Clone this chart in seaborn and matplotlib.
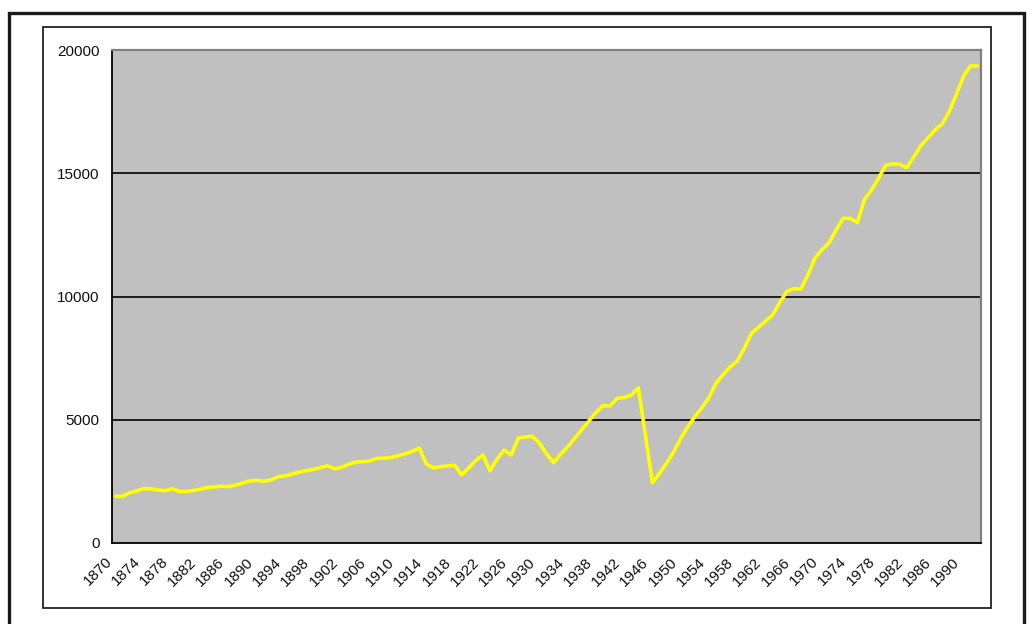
import numpy as np
import matplotlib
matplotlib.use("Agg")
import matplotlib.pyplot as plt
from matplotlib.patches import Rectangle
from matplotlib.transforms import ScaledTranslation
import seaborn as sns

# ---- data ----
years = list(range(1870, 1993))
gdp = [
    1900, 1890, 2040, 2110, 2210, 2200, 2150, 2120, 2200, 2090,   # 1870-1879
    2090, 2130, 2180, 2250, 2280, 2300, 2290, 2350, 2430, 2520,   # 1880-1889
    2540, 2510, 2560, 2690, 2720, 2800, 2880, 2930, 2990, 3060,   # 1890-1899
    3130, 3010, 3070, 3200, 3280, 3300, 3330, 3430, 3440, 3470,   # 1900-1909
    3540, 3620, 3720, 3850, 3200, 3050, 3090, 3130, 3150, 2760,   # 1910-1919
    3050, 3350, 3570, 2930, 3400, 3770, 3570, 4250, 4300, 4330,   # 1920-1929
    4050, 3620, 3260, 3600, 3900, 4250, 4600, 4950, 5300, 5570,   # 1930-1939
    5560, 5870, 5900, 6000, 6290, 4370, 2450, 2830, 3240, 3690,   # 1940-1949
    4250, 4710, 5130, 5490, 5900, 6480, 6830, 7150, 7380, 7900,   # 1950-1959
    8500, 8750, 9000, 9250, 9750, 10200, 10320, 10300, 10870, 11560,  # 1960-1969
    11900, 12180, 12700, 13170, 13170, 13000, 13930, 14320, 14800, 15320,  # 1970-1979
    15380, 15360, 15230, 15670, 16120, 16440, 16760, 17000, 17500, 18190,  # 1980-1989
    18920, 19350, 19350,                                              # 1990-1992
]
label_years = list(range(1870, 1991, 4))
y_ticks = [0, 5000, 10000, 15000, 20000]

sns.set_style("white")
plt.rcParams["font.family"] = ["Liberation Sans", "DejaVu Sans"]

W, H = 1029, 624
fig = plt.figure(figsize=(W / 100, H / 100), dpi=100)
fig.patch.set_facecolor("white")

# outer thick page frame and inner chart frame
fig.add_artist(Rectangle((8.5 / W, -0.05), (1024 - 8.5) / W, 1 - 12.5 / H + 0.05,
                         transform=fig.transFigure, fill=False,
                         edgecolor="#1a1a1a", linewidth=2.4))
fig.add_artist(Rectangle((43 / W, 1 - 608 / H), (991 - 43) / W, (608 - 27) / H,
                         transform=fig.transFigure, fill=False,
                         edgecolor="#222222", linewidth=1.3))

ax = fig.add_axes([112 / W, 1 - 543 / H, (981 - 112) / W, (543 - 50) / H])
ax.set_facecolor("#C0C0C0")

sns.lineplot(x=years, y=gdp, ax=ax, color="#FFFF00", linewidth=2.6)
for ln in ax.get_lines():
    ln.set_solid_joinstyle("round")
    ln.set_solid_capstyle("round")

ax.set_xlim(1869.5, 1992.5)
ax.set_ylim(0, 20000)
ax.set_xlabel("")
ax.set_ylabel("")

ax.set_yticks(y_ticks)
ax.set_yticklabels([str(v) for v in y_ticks])
ax.yaxis.grid(True, color="black", linewidth=1.2)
ax.xaxis.grid(False)
ax.set_axisbelow(True)
gls = ax.get_ygridlines()
gls[0].set_visible(False)
gls[-1].set_visible(False)

ax.set_xticks(label_years)
ax.set_xticklabels([str(v) for v in label_years])
ax.set_xticks(np.arange(years[0] - 0.5, years[-1] + 1.0, 1.0), minor=True)

ax.tick_params(axis="y", which="major", length=5, width=1.1, color="black",
               direction="out", pad=4, labelsize=11, labelcolor="#111111")
ax.tick_params(axis="x", which="major", length=0, pad=12, labelsize=11,
               labelcolor="#111111")
ax.tick_params(axis="x", which="minor", length=4, width=1.0, color="black",
               direction="out")

offset = ScaledTranslation(-6 / 100, 0, fig.dpi_scale_trans)
for lbl in ax.get_xticklabels():
    lbl.set_rotation(45)
    lbl.set_ha("right")
    lbl.set_va("center")
    lbl.set_rotation_mode("anchor")
    lbl.set_transform(lbl.get_transform() + offset)

for side in ("left", "bottom"):
    ax.spines[side].set_color("black")
    ax.spines[side].set_linewidth(1.3)
for side in ("top", "right"):
    ax.spines[side].set_color("#808080")
    ax.spines[side].set_linewidth(1.6)
    ax.spines[side].set_visible(True)

fig.savefig("out.png", dpi=100)
